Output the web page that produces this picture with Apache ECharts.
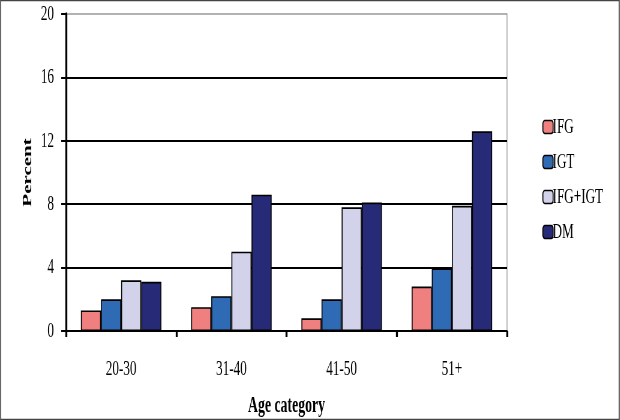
<!DOCTYPE html>
<html>
<head>
<meta charset="utf-8">
<script src="https://cdn.jsdelivr.net/npm/echarts@6/dist/echarts.min.js"></script>
<style>
html,body{margin:0;padding:0;background:#fff;overflow:hidden;width:620px;height:420px}
#c{width:1033px;height:420px;transform:scaleX(0.6);transform-origin:0 0}
</style>
</head>
<body>
<div id="c"></div>
<script>
const categories = ['20-30', '31-40', '41-50', '51+'];
const ifg = [1.3, 1.5, 0.8, 2.8];
const igt = [2.0, 2.2, 2.0, 3.95];
const ifgIgt = [3.2, 5.0, 7.8, 7.9];
const dm = [3.1, 8.6, 8.1, 12.6];
const seriesNames = ['IFG', 'IGT', 'IFG+IGT', 'DM'];
const colors = ['#f08080', '#2f6bb5', '#d2d2ea', '#272b77'];

const chart = echarts.init(document.getElementById('c'));
const font = 'Liberation Serif';
const mk = (name, data, i) => ({
  name, type: 'bar', data,
  barGap: '0%', barCategoryGap: '27%',
  itemStyle: { color: colors[i], borderColor: '#000', borderWidth: 1.6 }
});
chart.setOption({
  backgroundColor: '#fff',
  animation: false,
  graphic: [{ type: 'rect', shape: { x: 1, y: 0.5, width: 1031, height: 419 }, style: { fill: 'none', stroke: '#444', lineWidth: 1.6 } }],
  grid: { left: 110, right: 188, top: 14, bottom: 89, outerBoundsMode: 'none', containLabel: false, show: true, borderColor: '#999', borderWidth: 1.3, backgroundColor: 'transparent' },
  legend: {
    orient: 'vertical', left: 899, top: 111, itemGap: 13, itemWidth: 17, itemHeight: 13,
    itemStyle: { borderColor: '#000', borderWidth: 1.6 },
    textStyle: { fontFamily: font, fontSize: 22, color: '#000', padding: [0, 0, 0, -6] },
    data: seriesNames
  },
  xAxis: {
    type: 'category', data: categories,
    name: 'Age category', nameLocation: 'middle', nameGap: 64,
    nameTextStyle: { fontFamily: font, fontSize: 23, fontWeight: 'bold', color: '#000' },
    axisLine: { lineStyle: { color: '#000', width: 2 } },
    axisTick: { show: true, length: 6, lineStyle: { color: '#000', width: 3.3 } },
    axisLabel: { fontFamily: font, fontSize: 22, color: '#000', margin: 27 }
  },
  yAxis: {
    type: 'value', min: 0, max: 20, interval: 4,
    name: 'Percent', nameLocation: 'middle', nameGap: 52, nameRotate: 90,
    nameTextStyle: { fontFamily: font, fontSize: 21, fontWeight: 'bold', color: '#000', letterSpacing: 0.5 },
    axisLine: { show: true, lineStyle: { color: '#000', width: 3.3 } },
    axisTick: { show: true, length: 8, lineStyle: { color: '#000', width: 2 } },
    axisLabel: { fontFamily: font, fontSize: 22, color: '#000', margin: 20 },
    splitLine: { show: true, lineStyle: { color: ['#000', '#000', '#000', '#000', '#000', 'rgba(0,0,0,0)'], width: 2 } }
  },
  series: [mk(seriesNames[0], ifg, 0), mk(seriesNames[1], igt, 1), mk(seriesNames[2], ifgIgt, 2), mk(seriesNames[3], dm, 3)]
});
</script>
</body>
</html>
